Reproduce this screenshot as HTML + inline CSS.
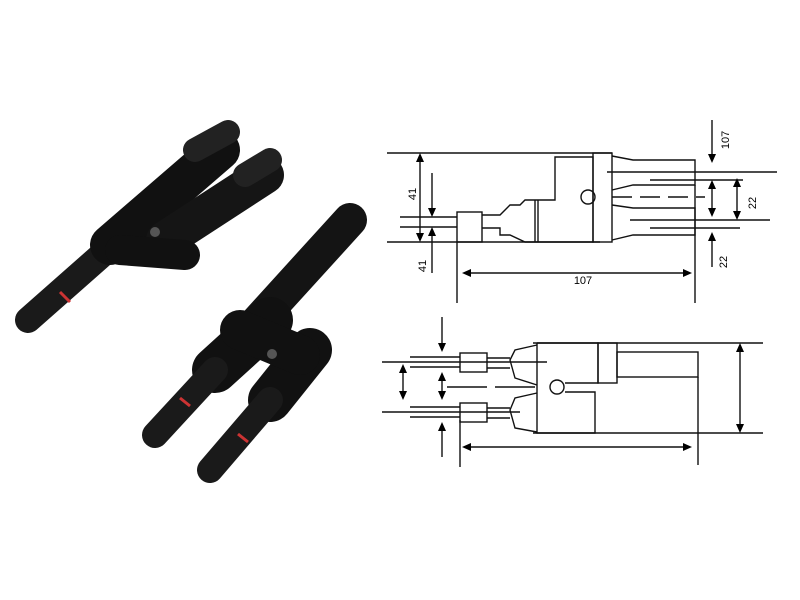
<!DOCTYPE html>
<html><head><style>body{margin:0;background:#fff}svg{display:block}</style></head><body>
<svg width="800" height="600" viewBox="0 0 800 600" xmlns="http://www.w3.org/2000/svg" font-family="Liberation Sans, sans-serif">
<rect width="800" height="600" fill="#fff"/>
<g stroke-linecap="round" fill="none">
 <line x1="28" y1="320" x2="130" y2="230" stroke="#1a1a1a" stroke-width="26"/>
 <line x1="110" y1="245" x2="220" y2="150" stroke="#111" stroke-width="40"/>
 <line x1="165" y1="240" x2="265" y2="175" stroke="#151515" stroke-width="38"/>
 <line x1="195" y1="150" x2="228" y2="132" stroke="#222" stroke-width="24"/>
 <line x1="245" y1="175" x2="270" y2="160" stroke="#222" stroke-width="24"/>
 <line x1="120" y1="250" x2="185" y2="255" stroke="#111" stroke-width="30"/>
 <line x1="350" y1="220" x2="250" y2="330" stroke="#141414" stroke-width="34"/>
 <line x1="270" y1="320" x2="215" y2="370" stroke="#111" stroke-width="46"/>
 <line x1="310" y1="350" x2="270" y2="400" stroke="#111" stroke-width="44"/>
 <line x1="215" y1="370" x2="155" y2="435" stroke="#1a1a1a" stroke-width="26"/>
 <line x1="270" y1="400" x2="210" y2="470" stroke="#1a1a1a" stroke-width="26"/>
 <line x1="240" y1="330" x2="300" y2="355" stroke="#111" stroke-width="40"/>
</g>
<circle cx="155" cy="232" r="5" fill="#555"/><circle cx="272" cy="354" r="5" fill="#555"/>
<line x1="60" y1="292" x2="70" y2="302" stroke="#c33" stroke-width="3"/>
<line x1="180" y1="398" x2="190" y2="406" stroke="#c33" stroke-width="3"/>
<line x1="238" y1="434" x2="248" y2="442" stroke="#c33" stroke-width="3"/>
<g stroke="#111" stroke-width="1.4" fill="none">
 <line x1="387" y1="153" x2="612" y2="153"/>
 <line x1="387" y1="242" x2="600" y2="242"/>
 <line x1="400" y1="217" x2="457" y2="217"/><line x1="400" y1="227" x2="457" y2="227"/>
 <line x1="420" y1="156" x2="420" y2="239"/>
 <line x1="432" y1="173" x2="432" y2="214"/><line x1="432" y1="231" x2="432" y2="273"/>
 <rect x="457" y="212" width="25" height="30"/>
 <path d="M482 215 H500 L510 205 H520 L525 200 H555 V157 H593 V242 H525 L510 235 H500 V228 H482"/>
 <line x1="535" y1="200" x2="535" y2="242"/><line x1="538" y1="200" x2="538" y2="242"/>
 <rect x="593" y="153" width="19" height="89"/>
 <circle cx="588" cy="197" r="7"/>
 <path d="M612 156 L633 160 H695 V185 H633 L612 190"/>
 <path d="M612 205 L633 208 H695 V235 H633 L612 240"/>
 <line x1="607" y1="172" x2="777" y2="172"/><line x1="650" y1="180" x2="743" y2="180"/>
 <line x1="630" y1="220" x2="770" y2="220"/><line x1="650" y1="228" x2="740" y2="228"/>
 <line x1="612" y1="197" x2="705" y2="197" stroke-dasharray="20,8"/>
 <line x1="457" y1="242" x2="457" y2="303"/><line x1="695" y1="185" x2="695" y2="303"/>
 <line x1="466" y1="273" x2="688" y2="273"/>
 <line x1="712" y1="120" x2="712" y2="160"/>
 <line x1="712" y1="184" x2="712" y2="213"/><line x1="737" y1="182" x2="737" y2="216"/>
 <line x1="712" y1="236" x2="712" y2="267"/>
</g>
<g fill="#000">
 <path d="M420 153 l-4 9 h8z M420 242 l-4 -9 h8z M432 217 l-4 -9 h8z M432 227 l-4 9 h8z"/>
 <path d="M462 273 l9 -4 v8z M692 273 l-9 -4 v8z"/>
 <path d="M712 163 l-4 -9 h8z M712 180 l-4 9 h8z M712 217 l-4 -9 h8z M737 178 l-4 9 h8z M737 220 l-4 -9 h8z M712 232 l-4 9 h8z"/>
</g>
<g font-size="11" fill="#000">
 <text x="583" y="284" text-anchor="middle">107</text>
 <text transform="translate(416,194) rotate(-90)" text-anchor="middle">41</text>
 <text transform="translate(426,266) rotate(-90)" text-anchor="middle">41</text>
 <text transform="translate(729,140) rotate(-90)" text-anchor="middle">107</text>
 <text transform="translate(756,203) rotate(-90)" text-anchor="middle">22</text>
 <text transform="translate(727,262) rotate(-90)" text-anchor="middle">22</text>
</g>
<g stroke="#111" stroke-width="1.4" fill="none">
 <line x1="533" y1="343" x2="763" y2="343"/><line x1="533" y1="433" x2="763" y2="433"/>
 <line x1="740" y1="347" x2="740" y2="429"/>
 <rect x="617" y="352" width="81" height="25"/>
 <line x1="698" y1="377" x2="698" y2="465"/><line x1="460" y1="420" x2="460" y2="467"/>
 <line x1="466" y1="447" x2="688" y2="447"/>
 <path d="M537 343 H598 V383 H565 M537 343 V433 H595 V392 H565"/>
 <rect x="598" y="343" width="19" height="40"/>
 <circle cx="557" cy="387" r="7"/>
 <path d="M537 345 L515 350 L510 360 L515 378 L537 385"/>
 <path d="M537 393 L515 398 L510 410 L515 428 L537 432"/>
 <rect x="460" y="353" width="27" height="19"/><rect x="460" y="403" width="27" height="19"/>
 <line x1="487" y1="358" x2="510" y2="358"/><line x1="487" y1="368" x2="510" y2="368"/>
 <line x1="487" y1="408" x2="510" y2="408"/><line x1="487" y1="418" x2="510" y2="418"/>
 <line x1="382" y1="362" x2="547" y2="362"/><line x1="382" y1="412" x2="520" y2="412"/>
 <line x1="410" y1="357" x2="460" y2="357"/><line x1="410" y1="367" x2="460" y2="367"/>
 <line x1="410" y1="407" x2="460" y2="407"/><line x1="410" y1="417" x2="460" y2="417"/>
 <line x1="447" y1="387" x2="540" y2="387" stroke-dasharray="40,8"/>
 <line x1="403" y1="368" x2="403" y2="397"/>
 <line x1="442" y1="317" x2="442" y2="349"/><line x1="442" y1="375" x2="442" y2="397"/><line x1="442" y1="425" x2="442" y2="457"/>
</g>
<g fill="#000">
 <path d="M740 343 l-4 9 h8z M740 433 l-4 -9 h8z M462 447 l9 -4 v8z M692 447 l-9 -4 v8z"/>
 <path d="M403 364 l-4 9 h8z M403 400 l-4 -9 h8z M442 352 l-4 -9 h8z M442 372 l-4 9 h8z M442 400 l-4 -9 h8z M442 422 l-4 9 h8z"/>
</g>
</svg>
</body></html>
